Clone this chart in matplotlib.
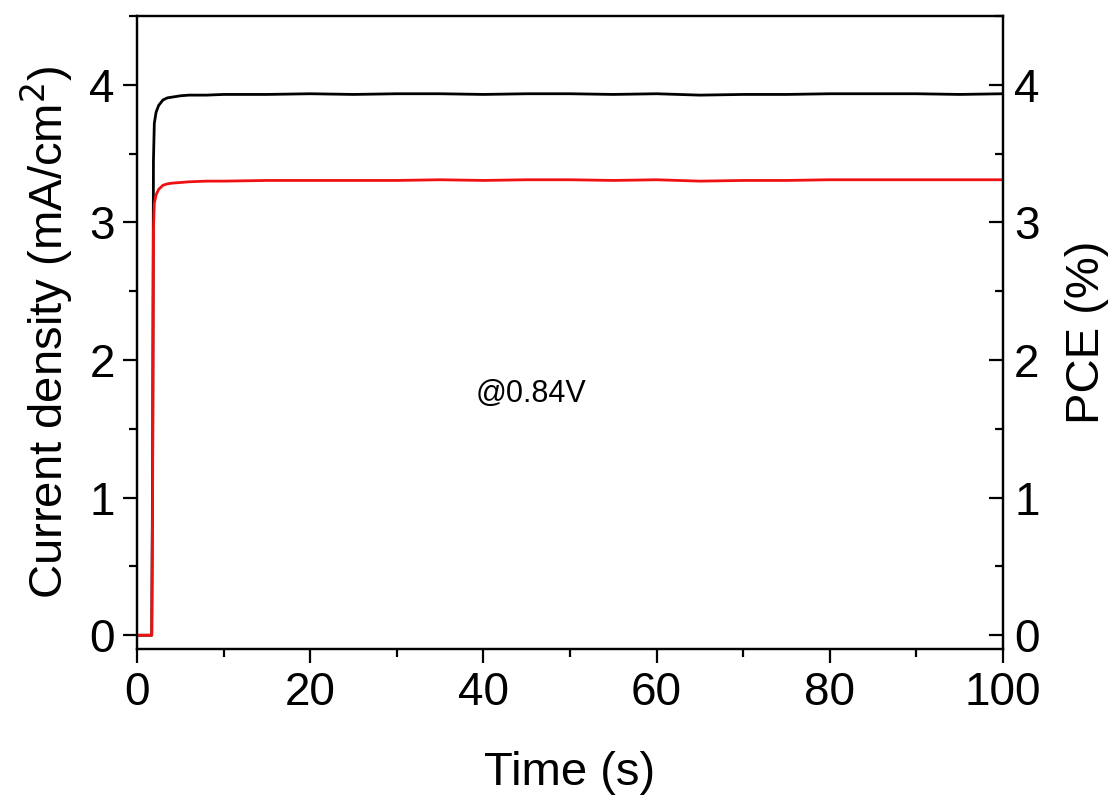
import matplotlib.pyplot as plt
from matplotlib.ticker import MultipleLocator

plt.rcParams["font.family"] = ["Liberation Sans", "DejaVu Sans"]

# time (s) and values
time_s = [0, 1.7, 1.8, 1.9, 2.0, 2.2, 2.5, 3.0, 3.5, 4.0, 5.0, 6.0, 8.0, 10, 15,
          20, 25, 30, 35, 40, 45, 50, 55, 60, 65, 70, 75, 80, 85, 90, 95, 100]
current_density = [0, 0, 1.2, 3.45, 3.72, 3.80, 3.85, 3.89, 3.905, 3.91, 3.92,
                   3.925, 3.925, 3.93, 3.93, 3.935, 3.93, 3.935, 3.935, 3.93,
                   3.935, 3.935, 3.93, 3.935, 3.925, 3.93, 3.93, 3.935, 3.935,
                   3.935, 3.93, 3.935]
pce = [0, 0, 1.0, 2.95, 3.14, 3.20, 3.24, 3.27, 3.28, 3.285, 3.29, 3.295, 3.30,
       3.30, 3.305, 3.305, 3.305, 3.305, 3.31, 3.305, 3.31, 3.31, 3.305, 3.31,
       3.30, 3.305, 3.305, 3.31, 3.31, 3.31, 3.31, 3.31]

fig = plt.figure(figsize=(11.12, 8.02), dpi=100)
ax = fig.add_axes([137 / 1112, 1 - 649 / 802, 866 / 1112, 633 / 802])
ax2 = ax.twinx()

ax.plot(time_s, current_density, color="black", lw=2)
ax2.plot(time_s, pce, color="#ee1111", lw=2)

for a in (ax, ax2):
    a.set_xlim(0, 100)
    a.set_ylim(-0.1, 4.5)
    a.yaxis.set_major_locator(MultipleLocator(1))
    a.yaxis.set_minor_locator(MultipleLocator(0.5))
    for s in a.spines.values():
        s.set_linewidth(1.6)

ax.xaxis.set_major_locator(MultipleLocator(20))
ax.xaxis.set_minor_locator(MultipleLocator(10))
ax.tick_params(axis="both", which="major", direction="out", length=10, width=1.6,
               labelsize=33, pad=6)
ax.tick_params(axis="both", which="minor", direction="out", length=6, width=1.6)
ax.tick_params(axis="x", top=False, which="both")
ax2.tick_params(axis="y", which="major", direction="in", length=10, width=1.6,
                labelsize=33, pad=8)
ax2.tick_params(axis="y", which="minor", direction="in", length=6, width=1.6)

ax.set_xlabel("Time (s)", fontsize=34, labelpad=26)
ax.set_ylabel("Current density (mA/cm$^2$)", fontsize=34, labelpad=10)
ax2.set_ylabel("PCE (%)", fontsize=34, labelpad=18)

ax.text(45.5, 1.75, "@0.84V", fontsize=22, ha="center", va="center")

fig.savefig("out.png", dpi=100)
